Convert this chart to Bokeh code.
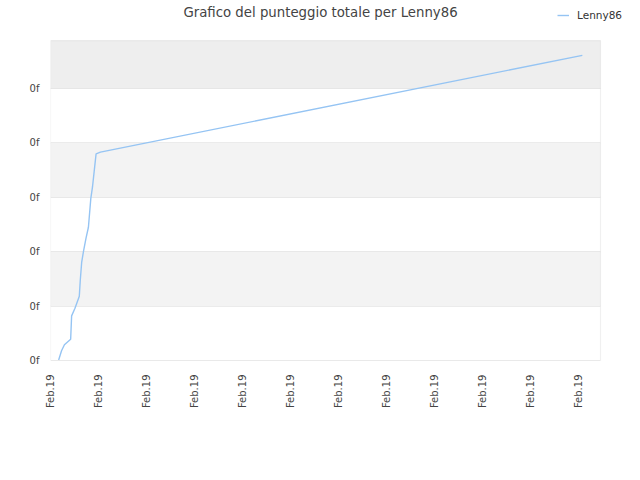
from bokeh.plotting import figure
from bokeh.models import (FixedTicker, Range1d, BoxAnnotation, Legend, LegendItem, Label)
from bokeh.embed import file_html
from bokeh.resources import INLINE
import math

title_text = "Grafico del punteggio totale per Lenny86"
series_name = "Lenny86"

# x positions in units of the date tick interval, y in score units
x_vals = [0.17, 0.23, 0.29, 0.42, 0.44, 0.51, 0.60, 0.62, 0.65, 0.69, 0.74,
          0.79, 0.84, 0.875, 0.92, 0.95, 1.04, 11.08]
y_vals = [0.01, 0.18, 0.29, 0.39, 0.82, 0.96, 1.18, 1.47, 1.81, 2.02, 2.25,
          2.45, 2.98, 3.19, 3.56, 3.80, 3.83, 5.61]

x_ticks = list(range(12))
x_tick_labels = ["Feb.19"] * 12
y_ticks = [0, 1, 2, 3, 4, 5]
y_tick_labels = ["0f"] * 6

# visible plot area (data units)
x_area = 11.458
y_area = 5.882
# frame extends beyond the plot area to hold title and legend
x_frame = 11.958
y_frame = 6.618

p = figure(width=624, height=464, output_backend="svg", toolbar_location=None,
           title_location=None,
           x_range=Range1d(0, x_frame), y_range=Range1d(0, y_frame),
           min_border_left=50, min_border_right=0, min_border_top=0,
           min_border_bottom=104)
p.background_fill_color = "white"
p.border_fill_color = "white"
p.outline_line_color = None

# alternating bands
bands = [(1, 2, "#f3f3f3"), (3, 4, "#f3f3f3"), (5, y_area, "#eeeeee")]
for b0, b1, c in bands:
    p.add_layout(BoxAnnotation(bottom=b0, top=b1, left=0, right=x_area,
                               fill_color=c, fill_alpha=1.0,
                               line_alpha=0, level="underlay"))

p.xgrid.grid_line_color = None
p.ygrid.grid_line_color = None
# horizontal grid lines across the plot area only
p.segment(x0=[0] * len(y_ticks), x1=[x_area] * len(y_ticks), y0=y_ticks, y1=y_ticks,
          line_color="#dedede", line_width=1, level="underlay")

r = p.line(x_vals, y_vals, line_color="#95c4f3", line_width=1.4)

# plot area border
p.add_layout(BoxAnnotation(bottom=0, top=y_area, left=0, right=x_area,
                           fill_alpha=0, line_color="#cccccc", line_width=1.2,
                           level="annotation"))

p.xaxis.ticker = FixedTicker(ticks=x_ticks)
p.xaxis.major_label_overrides = {t: l for t, l in zip(x_ticks, x_tick_labels)}
p.xaxis.major_label_orientation = math.pi / 2
p.yaxis.ticker = FixedTicker(ticks=y_ticks)
p.yaxis.major_label_overrides = {t: l for t, l in zip(y_ticks, y_tick_labels)}

for ax in (p.xaxis, p.yaxis):
    ax.axis_line_color = None
    ax.major_tick_line_color = None
    ax.minor_tick_line_color = None
    ax.major_label_text_font = "DejaVu Sans"
    ax.major_label_text_font_size = "10px"
    ax.major_label_text_color = "#444444"
p.xaxis.major_label_standoff = 8
p.yaxis.major_label_standoff = 5

p.add_layout(Label(x=5.625, y=6.397, text=title_text, text_align="center",
                   text_baseline="middle", text_font="DejaVu Sans",
                   text_font_size="13.3px", text_color="#444444"))

legend = Legend(items=[LegendItem(label=series_name, renderers=[r])],
                location=(507, 339), orientation="horizontal",
                background_fill_alpha=0, border_line_alpha=0,
                label_text_font="DejaVu Sans", label_text_font_size="10.5px",
                label_text_color="#333333", glyph_width=12, glyph_height=10,
                padding=0, margin=0, label_standoff=8)
p.add_layout(legend, "center")

open("out.html", "w").write(file_html(p, INLINE))
